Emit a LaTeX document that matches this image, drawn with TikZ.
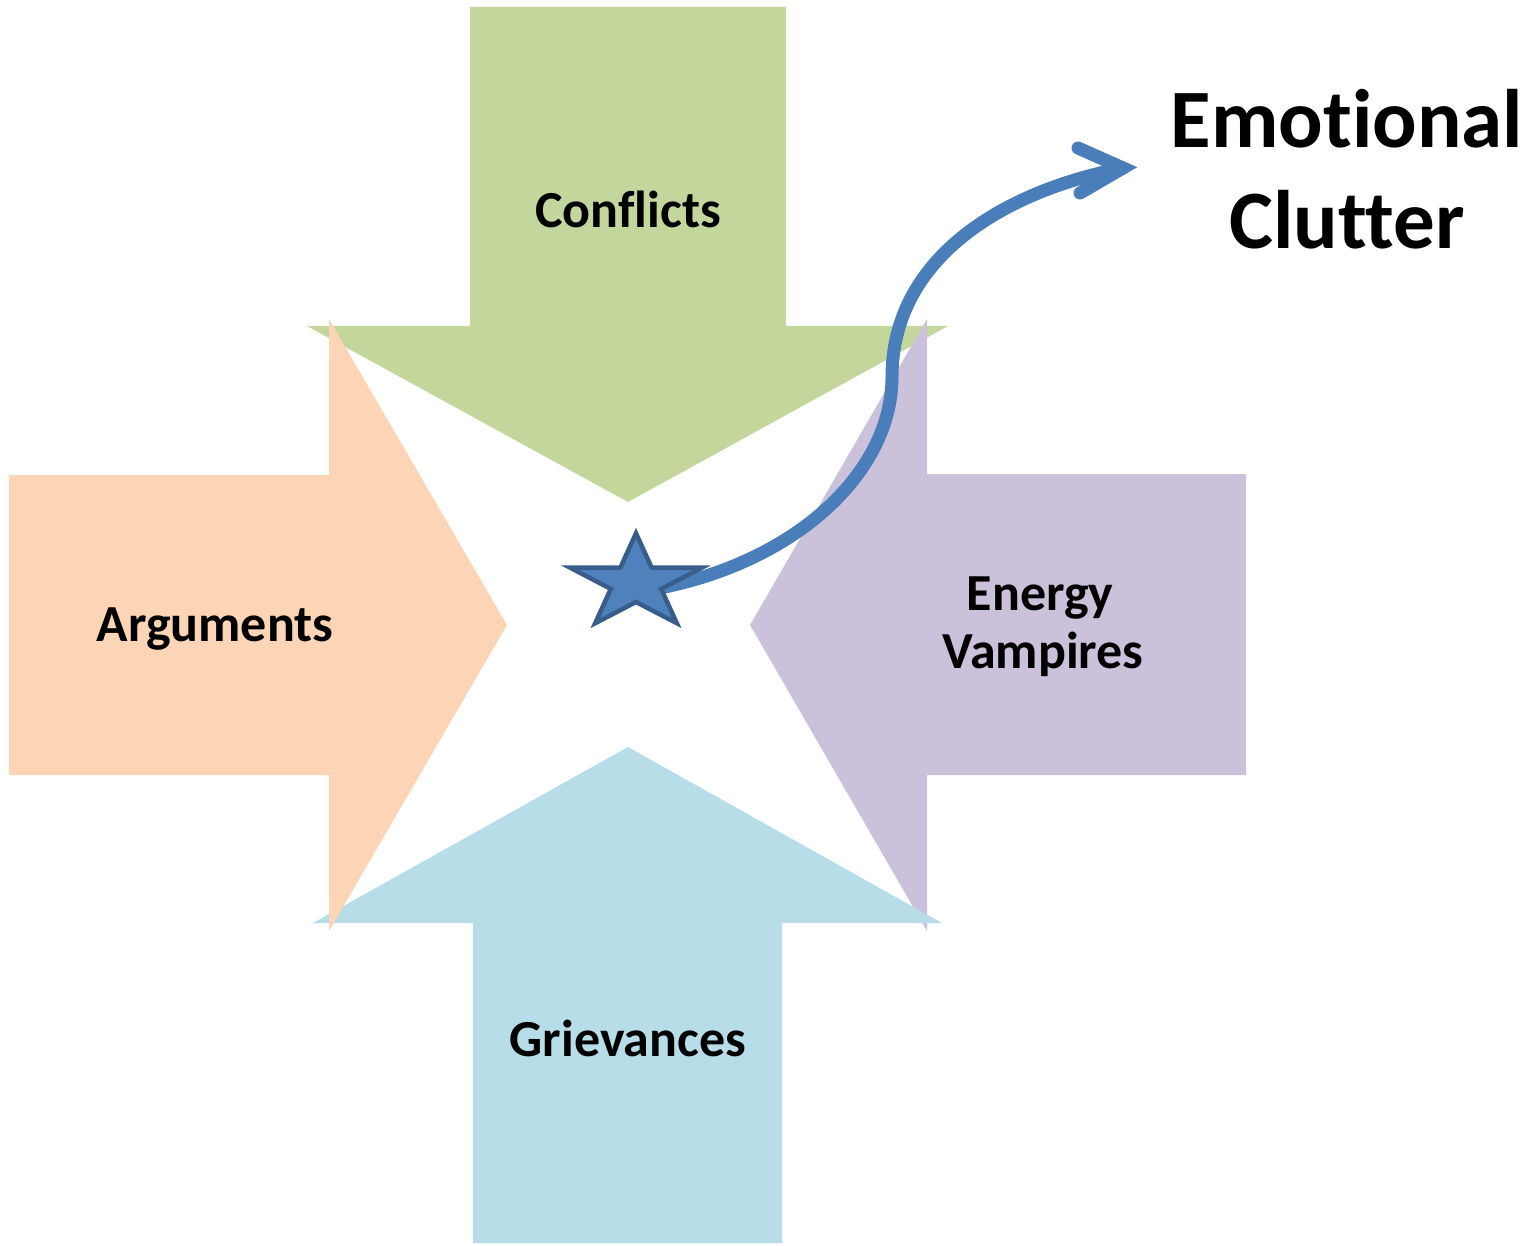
\documentclass[tikz,border=0pt]{standalone}
\usepackage{fontspec}
\setmainfont{Carlito}[Ligatures=NoCommon]
\definecolor{cgreen}{HTML}{C3D69B}
\definecolor{cpeach}{HTML}{FBD5B5}
\definecolor{cpurple}{HTML}{CCC1DA}
\definecolor{caqua}{HTML}{B7DDE8}
\definecolor{cstar}{HTML}{4F81BD}
\definecolor{cstarline}{HTML}{385D8A}
\definecolor{ccurve}{HTML}{4A7EBB}
\tikzset{
  blockarrow/.style={draw=none},
  label52/.style={font=\fontsize{52}{57}\selectfont\bfseries, inner sep=0pt, anchor=base},
  label83/.style={font=\fontsize{83}{99}\selectfont\bfseries, inner sep=0pt, anchor=base},
  starstyle/.style={fill=cstar, draw=cstarline, line width=4.5pt, line join=miter},
  curvestyle/.style={draw=ccurve, line width=13pt, line cap=round},
  chevron/.style={draw=ccurve, line width=13pt, line cap=round, line join=miter}
}
\begin{document}
\begin{tikzpicture}[x=1pt,y=-1pt]
\useasboundingbox (0,0) rectangle (1537,1246);
% Conflicts (green, down)
\fill[cgreen] (470,7) -- (786,7) -- (786,326) -- (948,326) -- (628,502) -- (307,326) -- (470,326) -- cycle;
% Energy Vampires (purple, left)
\fill[cpurple] (1246,474) -- (1246,775) -- (927,775) -- (927,931) -- (750,625) -- (927,319) -- (927,474) -- cycle;
% Grievances (aqua, up)
\fill[caqua] (473,1243) -- (782,1243) -- (782,923) -- (942,923) -- (628,747) -- (313,923) -- (473,923) -- cycle;
% Arguments (peach, right)
\fill[cpeach] (9,475) -- (329,475) -- (329,319) -- (507,625) -- (329,931) -- (329,775) -- (9,775) -- cycle;
% labels
\node[label52] (conflicts) at (628,228) {Conflicts};
\node[label52] (arguments) at (215,641) {Arguments};
\node[label52] (energy) at (1040,610) {Energy};
\node[label52] (vampires) at (1043,668) {Vampires};
\node[label52] (grievances) at (628,1056) {Grievances};
\node[label83] (emotional) at (1347,148) {Emotional};
\node[label83] (clutter) at (1347,249) {Clutter};
% curved arrow
\coordinate (starc) at (660,588);
\coordinate (tip) at (1123,168);
\coordinate (armA) at (1078,148);
\coordinate (armB) at (1080,193);
\draw[curvestyle] (starc) .. controls (800,560) and (892,470) .. (892,377)
  .. controls (892,260) and (1000,192) .. (tip);
\draw[chevron] (armA) -- (tip) -- (armB);
% star
\draw[starstyle] (636,533.3) -- (651.6,567.6) -- (702,567.6) -- (661.2,588.9) -- (676.8,623.2)
  -- (636,602) -- (595.2,623.2) -- (610.8,588.9) -- (570,567.6) -- (620.4,567.6) -- cycle;
\end{tikzpicture}
\end{document}
